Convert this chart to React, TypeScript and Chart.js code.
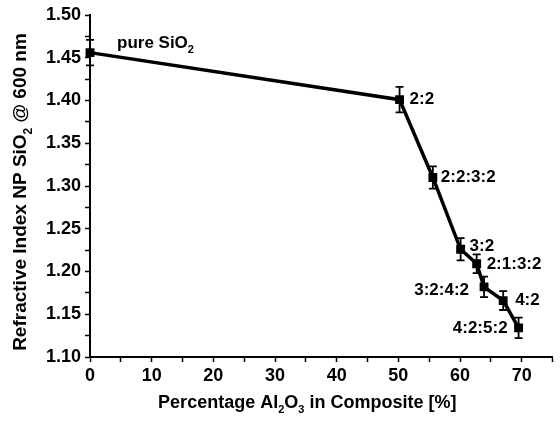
import React, { useEffect, useRef } from 'react';
import { Chart, registerables } from 'chart.js';

Chart.register(...registerables);

// ---- data ----
const alPercent = [0, 50.2, 55.6, 60.1, 62.7, 63.9, 67.0, 69.5];
const refractiveIndex = [1.456, 1.401, 1.310, 1.226, 1.209, 1.182, 1.166, 1.134];
const errorValues = [0.015, 0.015, 0.013, 0.013, 0.011, 0.012, 0.011, 0.012];
const pointLabels = ['pure SiO_2', '2:2', '2:2:3:2', '3:2', '2:1:3:2', '3:2:4:2', '4:2', '4:2:5:2'];

// label placement (style only): side and pixel offsets
const labelSide = ['right', 'right', 'right', 'right', 'right', 'left', 'right', 'left'];
const labelDx = [27, 10, 8, 9, 10, -15, 12, -11];
const labelDy = [-9, 0, 0, -3, 1, 3, 0, 0];

const yTitle = 'Refractive Index NP SiO_2 @ 600 nm';
const xTitle = 'Percentage Al_2O_3 in Composite [%]';

const FONT = '"Liberation Sans", Arial, sans-serif';

type Seg = { t: string; sub: boolean };
function parseRich(s: string): Seg[] {
  const segs: Seg[] = [];
  let buf = '';
  for (let i = 0; i < s.length; i++) {
    if (s[i] === '_' && i + 1 < s.length) {
      if (buf) segs.push({ t: buf, sub: false });
      buf = '';
      segs.push({ t: s[i + 1], sub: true });
      i++;
    } else buf += s[i];
  }
  if (buf) segs.push({ t: buf, sub: false });
  return segs;
}

function drawRich(ctx: CanvasRenderingContext2D, s: string, x: number, y: number, size: number, align: 'left' | 'right' | 'center') {
  const segs = parseRich(s);
  const subSize = Math.round(size * 0.62);
  const widths = segs.map((g) => {
    ctx.font = `bold ${g.sub ? subSize : size}px ${FONT}`;
    return ctx.measureText(g.t).width;
  });
  const total = widths.reduce((a, b) => a + b, 0);
  let cx = align === 'left' ? x : align === 'right' ? x - total : x - total / 2;
  ctx.textAlign = 'left';
  ctx.textBaseline = 'middle';
  segs.forEach((g, i) => {
    ctx.font = `bold ${g.sub ? subSize : size}px ${FONT}`;
    ctx.fillText(g.t, cx, g.sub ? y + size * 0.38 : y);
    cx += widths[i];
  });
}

const overlayPlugin = {
  id: 'overlay',
  afterDatasetsDraw(chart: any) {
    const ctx: CanvasRenderingContext2D = chart.ctx;
    const xs = chart.scales.x;
    const ys = chart.scales.y;
    ctx.save();
    ctx.strokeStyle = '#000';
    ctx.fillStyle = '#000';
    ctx.lineWidth = 1.8;
    // error bars
    alPercent.forEach((xv, i) => {
      const px = xs.getPixelForValue(xv);
      const top = ys.getPixelForValue(refractiveIndex[i] + errorValues[i]);
      const bot = ys.getPixelForValue(refractiveIndex[i] - errorValues[i]);
      ctx.beginPath();
      ctx.moveTo(px, top);
      ctx.lineTo(px, bot);
      ctx.moveTo(px - 4, top);
      ctx.lineTo(px + 4, top);
      ctx.moveTo(px - 4, bot);
      ctx.lineTo(px + 4, bot);
      ctx.stroke();
    });
    // point labels
    pointLabels.forEach((lab, i) => {
      const px = xs.getPixelForValue(alPercent[i]) + labelDx[i];
      const py = ys.getPixelForValue(refractiveIndex[i]) + labelDy[i];
      drawRich(ctx, lab, px, py, 17, labelSide[i] === 'left' ? 'right' : 'left');
    });
    ctx.restore();
  },
  afterDraw(chart: any) {
    const ctx: CanvasRenderingContext2D = chart.ctx;
    const area = chart.chartArea;
    ctx.save();
    ctx.fillStyle = '#000';
    // x title
    drawRich(ctx, xTitle, (area.left + area.right) / 2 - 14, 403, 18, 'center');
    // y title
    ctx.translate(21, (area.top + area.bottom) / 2 + 6);
    ctx.rotate(-Math.PI / 2);
    drawRich(ctx, yTitle, 0, 0, 19, 'center');
    ctx.restore();
  },
};

export default function App() {
  const ref = useRef<HTMLCanvasElement | null>(null);
  useEffect(() => {
    if (!ref.current) return;
    const chart = new Chart(ref.current, {
      type: 'scatter',
      data: {
        datasets: [
          {
            data: alPercent.map((x, i) => ({ x, y: refractiveIndex[i] })),
            showLine: true,
            borderColor: '#000',
            backgroundColor: '#000',
            borderWidth: 3.5,
            pointStyle: 'rect',
            pointRadius: 3.8,
            pointBackgroundColor: '#000',
            pointBorderColor: '#000',
            clip: false,
          } as any,
        ],
      },
      options: {
        animation: false,
        responsive: false,
        maintainAspectRatio: false,
        layout: { padding: { top: 15, right: 3, left: 0, bottom: 0 } },
        plugins: { legend: { display: false }, tooltip: { enabled: false } },
        scales: {
          x: {
            type: 'linear',
            min: 0,
            max: 75,
            afterFit(scale: any) {
              scale.height = 69;
            },
            border: { display: true, color: '#000', width: 2 },
            grid: { drawOnChartArea: false, color: '#000', tickLength: 5, tickWidth: 1.5 },
            ticks: {
              stepSize: 5,
              color: '#000',
              padding: 3,
              maxRotation: 0,
              autoSkip: false,
              font: { family: FONT, size: 18, weight: 'bold' },
              callback: (v: any) => (Math.round(v) % 10 === 0 ? String(v) : ''),
            },
          },
          y: {
            type: 'linear',
            min: 1.1,
            max: 1.5,
            afterFit(scale: any) {
              scale.width = 90;
            },
            border: { display: true, color: '#000', width: 2 },
            grid: { drawOnChartArea: false, color: '#000', tickLength: 5, tickWidth: 1.5 },
            ticks: {
              stepSize: 0.025,
              color: '#000',
              padding: 4,
              autoSkip: false,
              font: { family: FONT, size: 18, weight: 'bold' },
              callback: (v: any) => (Math.round(v * 1000) % 50 === 0 ? Number(v).toFixed(2) : ''),
            },
          },
        },
      } as any,
      plugins: [overlayPlugin],
    });
    return () => chart.destroy();
  }, []);
  return (
    <div style={{ position: 'fixed', left: 0, top: 0, width: 560, height: 426, background: '#fff' }}>
      <canvas ref={ref} width={560} height={426} style={{ width: 560, height: 426 }} />
    </div>
  );
}
